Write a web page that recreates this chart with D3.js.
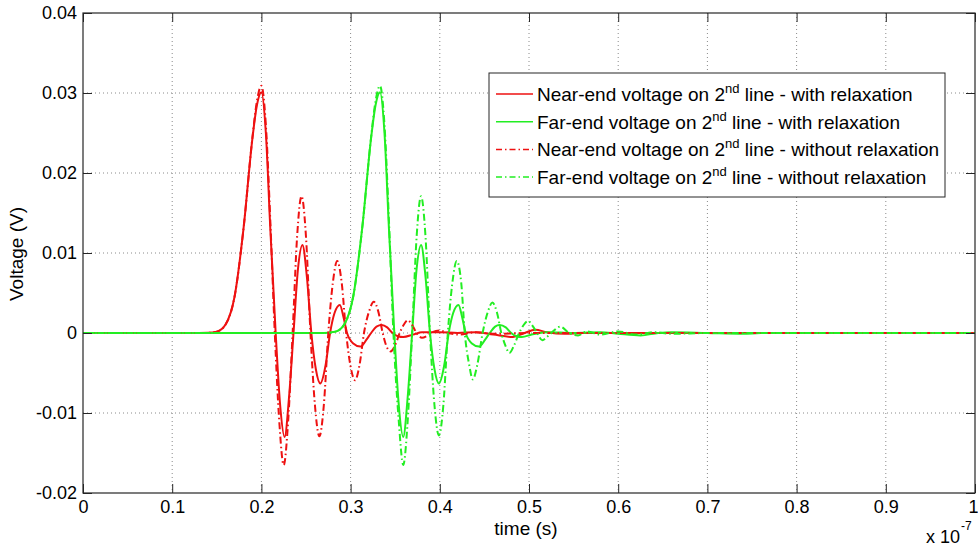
<!DOCTYPE html>
<html>
<head>
<meta charset="utf-8">
<script src="https://cdn.jsdelivr.net/npm/d3@7"></script>
<style>
body { margin: 0; background: #fff; }
svg { font-family: Arial, "Liberation Sans", sans-serif; }
</style>
</head>
<body>
<svg id="chart" width="978" height="550"></svg>
<script>
// time in units of 1e-7 s, voltage in V
const nearRelaxT = [0, 0.13, 0.14, 0.15, 0.16, 0.17, 0.18, 0.19, 0.195, 0.2, 0.205, 0.21, 0.216, 0.221, 0.226, 0.231, 0.236, 0.241, 0.246, 0.251, 0.256, 0.261, 0.266, 0.272, 0.277, 0.282, 0.288, 0.292, 0.296, 0.303, 0.311, 0.318, 0.323, 0.329, 0.335, 0.341, 0.347, 0.353, 0.359, 0.37, 0.38, 0.4, 0.42, 0.44, 0.46, 0.482, 0.495, 0.507, 0.52, 0.54, 0.56, 0.6, 1.0]
const nearRelaxV = [0, 0, 0.00002, 0.00017, 0.0011, 0.0046, 0.0131, 0.0244, 0.0285, 0.0301, 0.025, 0.013, 0, -0.009, -0.013, -0.008, 0, 0.008, 0.011, 0.007, 0, -0.0045, -0.0063, -0.004, 0, 0.0025, 0.0035, 0.002, 0, -0.0013, -0.0017, -0.0008, 0, 0.0008, 0.001, 0.0007, 0, -0.0004, -0.0005, -0.0002, 0.0001, 0.0001, 0, 0.0001, -0.0002, -0.0005, 0, 0.0004, 0.0001, -0.0001, 0, 0, 0]

const farRelaxT = [0, 0.27, 0.283, 0.293, 0.303, 0.313, 0.323, 0.328, 0.333, 0.338, 0.343, 0.349, 0.354, 0.359, 0.364, 0.369, 0.374, 0.379, 0.384, 0.389, 0.394, 0.399, 0.405, 0.41, 0.415, 0.421, 0.425, 0.429, 0.436, 0.444, 0.451, 0.456, 0.462, 0.467, 0.474, 0.48, 0.486, 0.492, 0.503, 0.52, 0.55, 0.58, 0.6, 0.625, 0.645, 0.66, 0.7, 0.74, 0.76, 1.0]
const farRelaxV = [0, 0, 0.00017, 0.0011, 0.0046, 0.0131, 0.0244, 0.0285, 0.0301, 0.025, 0.013, 0, -0.009, -0.013, -0.008, 0, 0.008, 0.011, 0.007, 0, -0.0045, -0.0063, -0.004, 0, 0.0025, 0.0035, 0.002, 0, -0.0013, -0.0017, -0.0008, 0, 0.0008, 0.001, 0.0007, 0, -0.0004, -0.0005, -0.0002, 0.0001, 0, 0.0001, -0.0001, -0.0003, 0, 0.0001, 0, -0.0001, 0, 0]

const nearNoRelaxT = [0, 0.13, 0.14, 0.15, 0.16, 0.17, 0.18, 0.19, 0.195, 0.2, 0.205, 0.21, 0.215, 0.22, 0.225, 0.23, 0.235, 0.24, 0.245, 0.25, 0.255, 0.26, 0.265, 0.27, 0.275, 0.28, 0.285, 0.29, 0.295, 0.3, 0.305, 0.31, 0.315, 0.321, 0.326, 0.331, 0.336, 0.34, 0.345, 0.35, 0.355, 0.36, 0.364, 0.369, 0.374, 0.38, 0.385, 0.39, 0.4, 0.41, 0.42, 0.44, 0.46, 0.5, 1.0]
const nearNoRelaxV = [0, 0, 0.00002, 0.00017, 0.0011, 0.0046, 0.0131, 0.0245, 0.029, 0.0309, 0.026, 0.014, 0, -0.011, -0.0165, -0.011, 0, 0.012, 0.0171, 0.012, 0, -0.009, -0.0129, -0.009, 0, 0.0062, 0.009, 0.0063, 0, -0.0042, -0.0059, -0.004, 0, 0.0028, 0.0039, 0.0027, 0, -0.0016, -0.0023, -0.0015, 0, 0.0011, 0.0016, 0.001, 0, -0.0006, -0.0004, 0, 0.0003, 0, -0.0002, 0.0001, -0.0001, 0, 0]

const farNoRelaxT = [0, 0.27, 0.283, 0.293, 0.303, 0.313, 0.323, 0.328, 0.333, 0.338, 0.343, 0.348, 0.354, 0.359, 0.364, 0.369, 0.374, 0.379, 0.384, 0.389, 0.394, 0.399, 0.404, 0.409, 0.414, 0.419, 0.424, 0.428, 0.433, 0.437, 0.442, 0.448, 0.454, 0.459, 0.464, 0.469, 0.474, 0.478, 0.483, 0.489, 0.494, 0.499, 0.504, 0.509, 0.515, 0.52, 0.525, 0.535, 0.545, 0.555, 0.565, 0.58, 0.6, 0.62, 0.64, 0.66, 0.7, 1.0]
const farNoRelaxV = [0, 0, 0.00017, 0.0011, 0.0046, 0.0131, 0.0245, 0.029, 0.0309, 0.026, 0.014, 0, -0.011, -0.0165, -0.011, 0, 0.012, 0.0171, 0.012, 0, -0.009, -0.0128, -0.009, 0, 0.0062, 0.009, 0.0063, 0, -0.004, -0.0058, -0.004, 0, 0.0027, 0.0038, 0.0026, 0, -0.0017, -0.0025, -0.0016, 0, 0.001, 0.0015, 0.0009, 0, -0.0009, -0.0005, 0, 0.0008, 0, -0.0003, 0.0002, -0.0002, 0.0002, -0.0002, 0.0001, -0.0001, 0, 0]

const xTicks = [0, 0.1, 0.2, 0.3, 0.4, 0.5, 0.6, 0.7, 0.8, 0.9, 1]
const xTickLabels = ['0', '0.1', '0.2', '0.3', '0.4', '0.5', '0.6', '0.7', '0.8', '0.9', '1']
const yTicks = [-0.02, -0.01, 0, 0.01, 0.02, 0.03, 0.04]
const yTickLabels = ['-0.02', '-0.01', '0', '0.01', '0.02', '0.03', '0.04']

const seriesNames = [
	['Near-end voltage on 2', 'nd', ' line - with relaxation'],
	['Far-end voltage on 2', 'nd', ' line - with relaxation'],
	['Near-end voltage on 2', 'nd', ' line - without relaxation'],
	['Far-end voltage on 2', 'nd', ' line - without relaxation']
]

const red = '#ee1111'
const green = '#22ee22'
const dashDot = '7,3,1.5,3'

const series = [
	{ t: nearRelaxT, v: nearRelaxV, color: red, dash: null },
	{ t: farRelaxT, v: farRelaxV, color: green, dash: null },
	{ t: nearNoRelaxT, v: nearNoRelaxV, color: red, dash: dashDot },
	{ t: farNoRelaxT, v: farNoRelaxV, color: green, dash: dashDot }
]

const plotLeft = 83
const plotRight = 975
const plotTop = 13
const plotBottom = 493
const tickLen = 9
const frameColor = '#262626'

const svg = d3.select('#chart')

const xScale = d3.scaleLinear()
	.domain([0, 1])
	.range([plotLeft, plotRight])

const yScale = d3.scaleLinear()
	.domain([-0.02, 0.04])
	.range([plotBottom, plotTop])

// griglia tratteggiata
svg.append('g')
	.selectAll('line')
	.data(xTicks.slice(1, -1))
	.enter()
	.append('line')
		.attr('x1', d => xScale(d))
		.attr('x2', d => xScale(d))
		.attr('y1', plotTop)
		.attr('y2', plotBottom)
		.attr('stroke', '#8a8a8a')
		.attr('stroke-dasharray', '1,3')

svg.append('g')
	.selectAll('line')
	.data(yTicks.slice(1, -1))
	.enter()
	.append('line')
		.attr('x1', plotLeft)
		.attr('x2', plotRight)
		.attr('y1', d => yScale(d))
		.attr('y2', d => yScale(d))
		.attr('stroke', '#8a8a8a')
		.attr('stroke-dasharray', '1,3')

// curve
const line = d3.line()
	.x(d => xScale(d[0]))
	.y(d => yScale(d[1]))
	.curve(d3.curveMonotoneX)

svg.append('g')
	.selectAll('path')
	.data(series)
	.enter()
	.append('path')
		.attr('d', s => line(s.t.map((t, i) => [t, s.v[i]])))
		.attr('fill', 'none')
		.attr('stroke', s => s.color)
		.attr('stroke-width', 2)
		.attr('stroke-linejoin', 'round')
		.attr('stroke-dasharray', s => s.dash)

// assi con tacche interne
const xAxisBottom = d3.axisBottom(xScale).tickValues(xTicks).tickSize(-tickLen).tickPadding(7)
	.tickFormat((d, i) => xTickLabels[i])
const xAxisTop = d3.axisTop(xScale).tickValues(xTicks).tickSize(-tickLen).tickFormat('')
const yAxisLeft = d3.axisLeft(yScale).tickValues(yTicks).tickSize(-tickLen).tickPadding(6)
	.tickFormat((d, i) => yTickLabels[i])
const yAxisRight = d3.axisRight(yScale).tickValues(yTicks).tickSize(-tickLen).tickFormat('')

const gx = svg.append('g').attr('transform', `translate(0, ${plotBottom})`).call(xAxisBottom)
svg.append('g').attr('transform', `translate(0, ${plotTop})`).call(xAxisTop)
svg.append('g').attr('transform', `translate(${plotLeft}, 0)`).call(yAxisLeft)
svg.append('g').attr('transform', `translate(${plotRight}, 0)`).call(yAxisRight)

svg.selectAll('.domain').remove()
svg.selectAll('.tick line')
	.attr('stroke', frameColor)
svg.selectAll('.tick text')
	.attr('fill', '#000')
	.style('font-size', '18px')
	.style('font-family', 'Arial, "Liberation Sans", sans-serif')

// l'ultima etichetta sta sul bordo
gx.selectAll('.tick text')
	.filter((d, i) => i === xTicks.length - 1)
	.attr('dx', -2)

svg.append('rect')
	.attr('x', plotLeft)
	.attr('y', plotTop)
	.attr('width', plotRight - plotLeft)
	.attr('height', plotBottom - plotTop)
	.attr('fill', 'none')
	.attr('stroke', frameColor)
	.attr('stroke-width', 1.2)

// etichette assi
svg.append('text')
	.attr('x', 526)
	.attr('y', 535)
	.attr('text-anchor', 'middle')
	.style('font-size', '19px')
	.text('time (s)')

svg.append('text')
	.attr('transform', `translate(23, ${(plotTop + plotBottom) / 2 + 1}) rotate(-90)`)
	.attr('text-anchor', 'middle')
	.style('font-size', '19px')
	.text('Voltage (V)')

const expo = svg.append('text')
	.attr('x', 926)
	.attr('y', 543)
	.style('font-size', '18px')
expo.append('tspan').text('x 10')
expo.append('tspan')
	.attr('dy', -13)
	.attr('dx', 1)
	.style('font-size', '12px')
	.text('-7')

// legenda
const legend = svg.append('g')
	.attr('transform', 'translate(489, 73)')

legend.append('rect')
	.attr('width', 456)
	.attr('height', 124)
	.attr('fill', '#fff')
	.attr('stroke', frameColor)
	.attr('stroke-width', 1)

const rows = legend.selectAll('g.row')
	.data(series)
	.enter()
	.append('g')
		.attr('class', 'row')
		.attr('transform', (d, i) => `translate(0, ${21 + i * 27.7})`)

rows.append('line')
	.attr('x1', 7)
	.attr('x2', 44)
	.attr('stroke', d => d.color)
	.attr('stroke-width', 1.5)
	.attr('stroke-dasharray', d => d.dash ? '6,3,1.5,3' : null)

const labels = rows.append('text')
	.attr('x', 48)
	.attr('y', 7)
	.style('font-size', '19px')

labels.append('tspan').text((d, i) => seriesNames[i][0])
labels.append('tspan')
	.attr('dy', -8)
	.style('font-size', '13px')
	.text((d, i) => seriesNames[i][1])
labels.append('tspan')
	.attr('dy', 8)
	.text((d, i) => seriesNames[i][2])
</script>
</body>
</html>
